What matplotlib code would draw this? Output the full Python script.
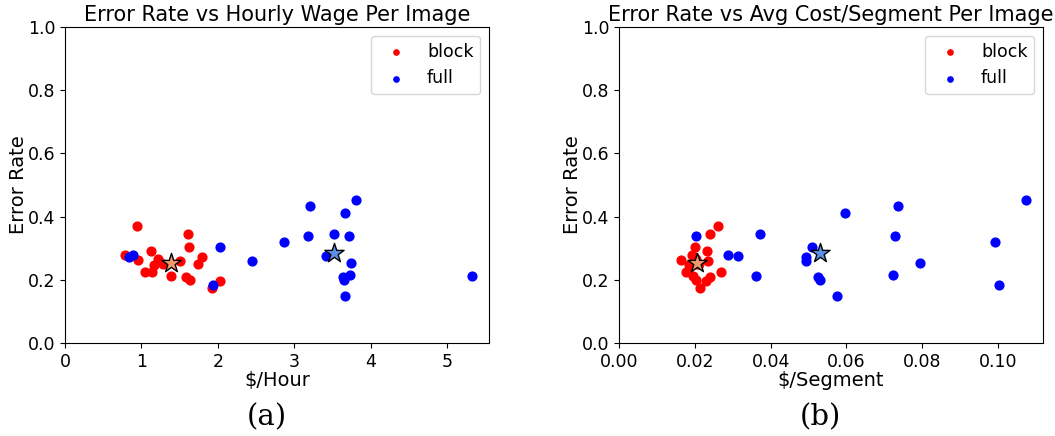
import matplotlib.pyplot as plt

# error rate per image, shared by both panels
block_err = [0.369, 0.344, 0.279, 0.290, 0.304, 0.271, 0.262, 0.266, 0.247, 0.251,
             0.260, 0.249, 0.224, 0.226, 0.212, 0.209, 0.198, 0.197, 0.174]
block_wage = [0.946, 1.606, 0.781, 1.130, 1.627, 1.797, 0.960, 1.217, 1.165, 1.278,
              1.505, 1.736, 1.052, 1.143, 1.383, 1.576, 1.632, 2.029, 1.916]
block_cost = [0.0260, 0.0241, 0.0192, 0.0231, 0.0201, 0.0198, 0.0163, 0.0203, 0.0186, 0.0206,
              0.0235, 0.0212, 0.0177, 0.0268, 0.0194, 0.0241, 0.0202, 0.0230, 0.0214]

full_err = [0.150, 0.184, 0.199, 0.210, 0.213, 0.214, 0.253, 0.260, 0.272, 0.276,
            0.279, 0.304, 0.321, 0.340, 0.340, 0.344, 0.411, 0.433, 0.452]
full_wage = [3.665, 1.941, 3.647, 3.634, 5.318, 3.726, 3.743, 2.448, 0.842, 3.416,
             0.886, 2.025, 2.862, 3.172, 3.717, 3.513, 3.661, 3.199, 3.805]
full_cost = [0.0574, 0.1003, 0.0531, 0.0526, 0.0361, 0.0722, 0.0795, 0.0492, 0.0492, 0.0314,
             0.0287, 0.0510, 0.0992, 0.0202, 0.0728, 0.0371, 0.0595, 0.0737, 0.1073]

# group summary points (x: wage, cost per segment; y: error rate)
block_star = {"wage": 1.383, "cost": 0.0206, "err": 0.252}
full_star = {"wage": 3.513, "cost": 0.0531, "err": 0.284}

panels = [
    ("Error Rate vs Hourly Wage Per Image", r"\$/Hour", block_wage, full_wage, "wage", "(a)"),
    ("Error Rate vs Avg Cost/Segment Per Image", r"\$/Segment", block_cost, full_cost, "cost", "(b)"),
]

fig = plt.figure(figsize=(10.55, 4.36), dpi=100)
lefts = [0.0616, 0.5867]
for left, (title, xlabel, bx, fx, key, tag) in zip(lefts, panels):
    ax = fig.add_axes([left, 0.2133, 0.402, 0.7247])
    ax.scatter(bx, block_err, s=40, color='red', label='block', zorder=2)
    ax.scatter(fx, full_err, s=40, color='blue', label='full', zorder=2)
    ax.scatter(block_star[key], block_star["err"], marker='*', s=210,
               color='#f4996b', edgecolor='black', linewidth=1, zorder=3)
    ax.scatter(full_star[key], full_star["err"], marker='*', s=210,
               color='#5b8fe6', edgecolor='black', linewidth=1, zorder=3)
    ax.set_xlim(left=0)
    ax.set_ylim(0, 1.0)
    ax.set_title(title, fontsize=15, pad=4)
    ax.set_xlabel(xlabel, fontsize=14, labelpad=0.5)
    ax.set_ylabel("Error Rate", fontsize=14, labelpad=0)
    ax.tick_params(labelsize=12.5)
    ax.legend(loc='upper right', fontsize=12.5, markerscale=0.6)
    fig.text(left + 0.191, 0.042, tag, ha='center', va='center',
             fontsize=21, family='DejaVu Serif')

fig.savefig('out.png', dpi=100)
